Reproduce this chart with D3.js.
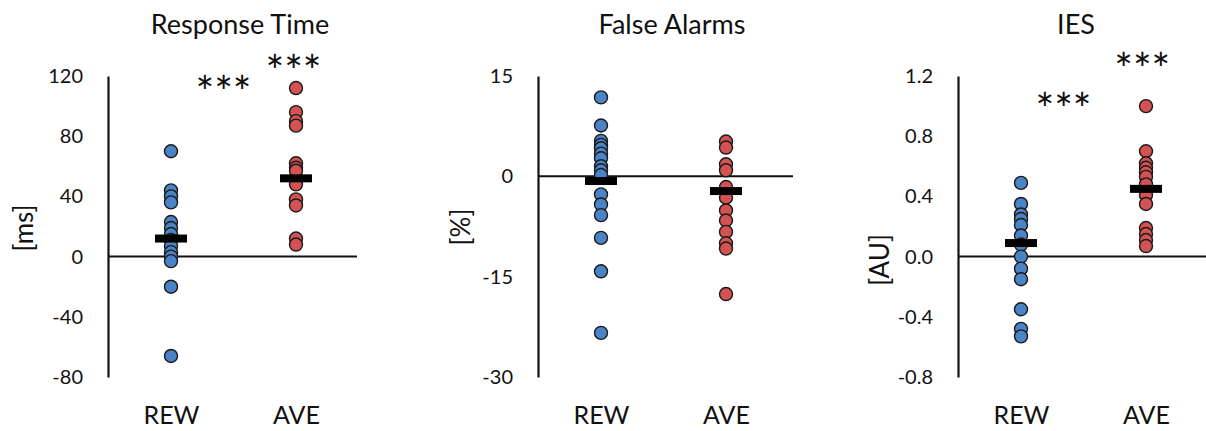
<!DOCTYPE html>
<html><head><meta charset="utf-8">
<script src="https://cdn.jsdelivr.net/npm/d3@7"></script>
<style>
html,body{margin:0;padding:0;background:#fff;}
svg{display:block;}
text{font-family:Lato,"Open Sans",sans-serif;fill:#111;}
</style></head>
<body>
<svg id="chart" width="1206" height="431"></svg>
<script>
const titles = ["Response Time", "False Alarms", "IES"];
const units = ["[ms]", "[%]", "[AU]"];
const categories = ["REW", "AVE"];

const rtTicks = [-80, -40, 0, 40, 80, 120];
const faTicks = [-30, -15, 0, 15];
const iesTicks = [-0.8, -0.4, 0.0, 0.4, 0.8, 1.2];

const rtREW = [70, 44, 40, 36, 23, 19, 15, 11, 7, 3, 0, -3, -20, -66];
const rtAVE = [112, 96, 90, 87, 62, 59, 57, 48, 38, 34, 12, 8];
const rtMean = [12, 52];

const faREW = [11.8, 7.6, 5.3, 4.7, 4.2, 3.4, 2.7, 1.5, 0.9, 0.2, -2.7, -4.2, -5.8, -9.2, -14.2, -23.4];
const faAVE = [5.2, 4.3, 1.8, 0.9, -1.6, -3.2, -5.1, -6.6, -8.3, -10.0, -10.8, -17.6];
const faMean = [-0.7, -2.2];

const iesREW = [0.49, 0.35, 0.28, 0.25, 0.21, 0.14, 0.08, 0.0, -0.08, -0.15, -0.35, -0.48, -0.53];
const iesAVE = [1.0, 0.70, 0.62, 0.59, 0.56, 0.53, 0.48, 0.41, 0.35, 0.19, 0.15, 0.11, 0.07];
const iesMean = [0.09, 0.45];

// significance markers: [position between REW(0) and AVE(1), value]
const rtStars = [[0.42, 116], [0.98, 130]];
const faStars = [];
const iesStars = [[0.34, 1.05], [0.97, 1.31]];

const panelDefs = [
  {title: titles[0], unit: units[0], ticks: rtTicks, fmt: d3.format("d"), rew: rtREW, ave: rtAVE, mean: rtMean, stars: rtStars,
   axisX: 108, lineW: 249, unitX: 24, unitY: 228, titleX: 240},
  {title: titles[1], unit: units[1], ticks: faTicks, fmt: d3.format("d"), rew: faREW, ave: faAVE, mean: faMean, stars: faStars,
   axisX: 538, lineW: 255, unitX: 461, unitY: 227, titleX: 672},
  {title: titles[2], unit: units[2], ticks: iesTicks, fmt: d3.format(".1f"), rew: iesREW, ave: iesAVE, mean: iesMean, stars: iesStars,
   axisX: 958, lineW: 250, unitX: 880, unitY: 260, titleX: 1076}
];

const colors = {REW: "#4a84c6", AVE: "#d45252"};
const plotTop = 76, plotBottom = 377;
const svg = d3.select("#chart");

panelDefs.forEach(p => {
  const y = d3.scaleLinear().domain([p.ticks[0], p.ticks[p.ticks.length - 1]]).range([plotBottom, plotTop]);
  const x = d3.scalePoint().domain(categories).range([p.axisX + 63, p.axisX + 188]);
  const g = svg.append("g");

  // y axis
  const ya = g.append("g").attr("transform", `translate(${p.axisX},0)`)
    .call(d3.axisLeft(y).tickValues(p.ticks).tickFormat(d => p.fmt(d).replace("\u2212", "-")).tickSize(0).tickPadding(25));
  ya.select(".domain").attr("stroke", "#111").attr("stroke-width", 2.2);
  ya.selectAll(".tick text").attr("font-size", 20).attr("fill", "#111").style("font-family", "Lato, sans-serif");

  // zero line
  g.append("line").attr("x1", p.axisX).attr("x2", p.axisX + p.lineW)
    .attr("y1", y(0)).attr("y2", y(0)).attr("stroke", "#111").attr("stroke-width", 2);

  // x labels
  const xa = g.append("g").attr("transform", `translate(0,${plotBottom})`)
    .call(d3.axisBottom(x).tickSize(0).tickPadding(29));
  xa.select(".domain").remove();
  xa.selectAll(".tick text").attr("font-size", 25).attr("fill", "#111").style("font-family", "Lato, sans-serif");

  // title
  g.append("text").attr("x", p.titleX).attr("y", 34).attr("text-anchor", "middle")
    .attr("font-size", 27).text(p.title);

  // unit label
  g.append("text").attr("transform", `translate(${p.unitX + 9},${p.unitY}) rotate(-90)`)
    .attr("text-anchor", "middle").attr("font-size", 26).text(p.unit);

  // dots
  const pts = [];
  p.rew.forEach(v => pts.push({c: "REW", v}));
  p.ave.forEach(v => pts.push({c: "AVE", v}));
  g.selectAll("circle").data(pts).join("circle")
    .attr("cx", d => x(d.c)).attr("cy", d => y(d.v)).attr("r", 6.5)
    .attr("fill", d => colors[d.c]).attr("stroke", "#1a1a1a").attr("stroke-width", 1.4);

  // mean bars
  g.selectAll("rect.mean").data(categories.map((c, i) => ({c, v: p.mean[i]}))).join("rect")
    .attr("class", "mean")
    .attr("x", d => x(d.c) - 16).attr("y", d => y(d.v) - 4)
    .attr("width", 32).attr("height", 8).attr("fill", "#000");

  // significance stars
  const xr = x.range();
  g.selectAll("text.star").data(p.stars).join("text").attr("class", "star")
    .attr("x", d => xr[0] + d[0] * (xr[1] - xr[0]))
    .attr("y", d => y(d[1]) + 26)
    .attr("text-anchor", "middle").attr("font-size", 44)
    .text("***");
});
</script>
</body></html>
